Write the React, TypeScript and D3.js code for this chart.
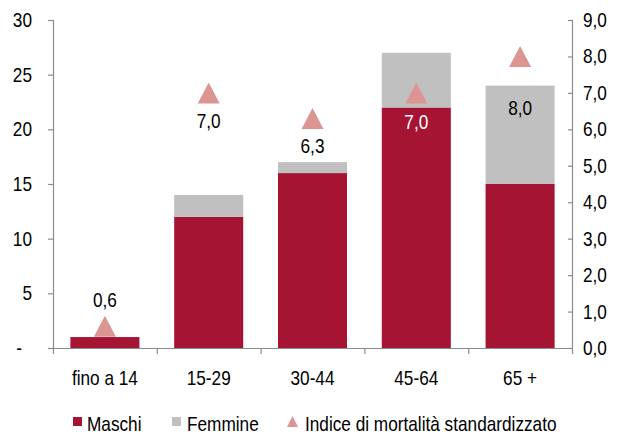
import React from "react";
import * as d3 from "d3";

const categories = ["fino a 14", "15-29", "30-44", "45-64", "65 +"];
const maschi = [1, 12, 16, 22, 15];
const femmine = [0, 2, 1, 5, 9];
const indice = [0.6, 7.0, 6.3, 7.0, 8.0];
const leftTicks = [0, 5, 10, 15, 20, 25, 30];
const rightTicks = [0, 1, 2, 3, 4, 5, 6, 7, 8, 9];
const legendItems = ["Maschi", "Femmine", "Indice di mortalità standardizzato"];

// label placement (style, not data)
const labelDy = [-26, 28, 28, 29, 52];
const labelFill = ["#000", "#000", "#000", "#fff", "#000"];

const W = 618;
const H = 435;
const RED = "#A51433";
const GRAY = "#C0C0C0";
const TRI = "#DB9694";
const AXIS = "#8C8C8C";
const FONT = "'Liberation Sans', Arial, sans-serif";
const FS = 21;
const SX = 0.82;

function T({
  x,
  y,
  anchor = "start",
  fill = "#000",
  children,
}: {
  x: number;
  y: number;
  anchor?: "start" | "middle" | "end";
  fill?: string;
  children: React.ReactNode;
}) {
  return (
    <text
      transform={`translate(${x},${y}) scale(${SX},1)`}
      textAnchor={anchor}
      fontSize={FS}
      fontFamily={FONT}
      fill={fill}
    >
      {children}
    </text>
  );
}

export default function App() {
  const left = 53;
  const right = 572;
  const top = 20;
  const bottom = 348;

  const x = d3
    .scaleBand<string>()
    .domain(categories)
    .range([left, right])
    .paddingInner(0.335)
    .paddingOuter(0.1675);
  const yL = d3.scaleLinear().domain([0, 30]).range([bottom, top]);
  const yR = d3.scaleLinear().domain([0, 9]).range([bottom, top]);
  const fmtR = (v: number) => d3.format(".1f")(v).replace(".", ",");
  const fmtL = (v: number) => (v === 0 ? "-" : String(v));

  const stacked = categories.map((c, i) => ({
    c,
    m: maschi[i],
    f: femmine[i],
  }));

  const boundaries = d3.range(categories.length + 1).map((i) => left + i * x.step());

  const triPath = (cx: number, cy: number, w = 22, h = 21) =>
    `M${cx},${cy - h / 2}L${cx + w / 2},${cy + h / 2}L${cx - w / 2},${cy + h / 2}Z`;

  return (
    <>
      <style>{`body{margin:0}`}</style>
      <svg width={W} height={H} style={{ display: "block" }}>
        <rect width={W} height={H} fill="#fff" />
        {/* bars */}
        {stacked.map((d) => (
          <g key={d.c}>
            <rect
              x={x(d.c)}
              y={yL(d.m)}
              width={x.bandwidth()}
              height={yL(0) - yL(d.m)}
              fill={RED}
            />
            {d.f > 0 && (
              <rect
                x={x(d.c)}
                y={yL(d.m + d.f)}
                width={x.bandwidth()}
                height={yL(d.m) - yL(d.m + d.f)}
                fill={GRAY}
              />
            )}
          </g>
        ))}
        {/* axes */}
        <g stroke={AXIS} strokeWidth={1.2} fill="none">
          <line x1={left + 0.5} x2={left + 0.5} y1={top} y2={bottom} />
          <line x1={right + 0.5} x2={right + 0.5} y1={top} y2={bottom} />
          <line x1={left - 5} x2={right + 0.5} y1={bottom + 0.5} y2={bottom + 0.5} />
          {leftTicks.map((t) => (
            <line key={"lt" + t} x1={left - 5} x2={left + 0.5} y1={yL(t) + 0.5} y2={yL(t) + 0.5} />
          ))}
          {rightTicks.map((t) => (
            <line key={"rt" + t} x1={right - 4} x2={right + 0.5} y1={yR(t) + 0.5} y2={yR(t) + 0.5} />
          ))}
          {boundaries.map((b, i) => (
            <line key={"bt" + i} x1={b + 0.5} x2={b + 0.5} y1={bottom} y2={bottom + 6} />
          ))}
        </g>
        {/* left tick labels */}
        {leftTicks.map((t) => (
          <T key={"ll" + t} x={t === 0 ? 22 : 32} y={yL(t) + 7} anchor="end">
            {fmtL(t)}
          </T>
        ))}
        {/* right tick labels */}
        {rightTicks.map((t) => (
          <T key={"rl" + t} x={583} y={yR(t) + 7}>
            {fmtR(t)}
          </T>
        ))}
        {/* category labels */}
        {categories.map((c) => (
          <T key={"cl" + c} x={(x(c) as number) + x.bandwidth() / 2} y={385} anchor="middle">
            {c}
          </T>
        ))}
        {/* triangles */}
        {categories.map((c, i) => {
          const cx = (x(c) as number) + x.bandwidth() / 2;
          const cy = yR(indice[i]);
          return (
            <g key={"tr" + c}>
              <path d={triPath(cx, cy)} fill={TRI} />
              <T x={cx} y={cy + labelDy[i] + 7} anchor="middle" fill={labelFill[i]}>
                {fmtR(indice[i])}
              </T>
            </g>
          );
        })}
        {/* legend */}
        <g>
          <rect x={73} y={417} width={9} height={9} fill={RED} />
          <T x={87} y={431}>
            {legendItems[0]}
          </T>
          <rect x={172} y={417} width={9} height={9} fill={GRAY} />
          <T x={187} y={431}>
            {legendItems[1]}
          </T>
          <path d={triPath(292.5, 421.5, 11, 11)} fill={TRI} />
          <T x={305} y={431}>
            {legendItems[2]}
          </T>
        </g>
      </svg>
    </>
  );
}
